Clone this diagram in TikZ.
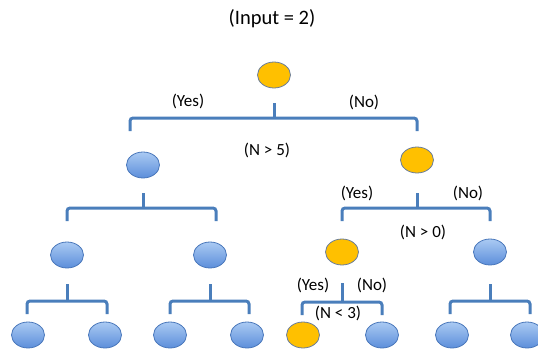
\documentclass[tikz,border=0pt]{standalone}
\usepackage{fontspec}
\setmainfont{Carlito}
\usetikzlibrary{shapes.geometric}
\definecolor{brcol}{RGB}{74,126,187}
\definecolor{bltop}{RGB}{170,202,243}
\definecolor{blbot}{RGB}{92,142,218}
\definecolor{blline}{RGB}{72,118,186}
\definecolor{orfill}{RGB}{255,192,0}
\definecolor{orline}{RGB}{105,125,155}
\tikzset{
  bnode/.style={ellipse, minimum width=33pt, minimum height=26pt, inner sep=0pt,
    top color=bltop, bottom color=blbot, draw=blline, line width=0.8pt},
  onode/.style={ellipse, minimum width=33pt, minimum height=26pt, inner sep=0pt,
    fill=orfill, draw=orline, line width=0.8pt},
  brk/.style={draw=brcol, line width=3pt, rounded corners=3pt},
  lbl/.style={font=\fontsize{17}{19}\selectfont, inner sep=0pt},
  ttl/.style={font=\fontsize{20.5}{24}\selectfont, inner sep=0pt}
}
\newcommand\brk[5]{%
  \draw[brk] (#1.center |- 0,#4) -- (#1.center |- 0,#5);
  \draw[brk] (#2,#5+13) -- (#2,#5) -- (#3,#5) -- (#3,#5+13);
}
\begin{document}
\begin{tikzpicture}[x=1pt,y=-1pt]
\useasboundingbox (0,0) rectangle (538,354);
\clip (0,0) rectangle (538,354);
\node[ttl] (title) at (272,19) {(Input = 2)};
% nodes
\node[onode] (root) at (274,75) {};
\node[bnode] (L) at (143,165) {};
\node[onode] (R) at (417,160) {};
\node[bnode] (LL) at (67,255) {};
\node[bnode] (LR) at (210,255) {};
\node[onode] (RL) at (342,252) {};
\node[bnode] (RR) at (490,252) {};
\node[bnode] (LLa) at (28,335) {};
\node[bnode] (LLb) at (105,335) {};
\node[bnode] (LRa) at (170,335) {};
\node[bnode] (LRb) at (247,335) {};
\node[onode] (RLa) at (303,335) {};
\node[bnode] (RLb) at (382,335) {};
\node[bnode] (RRa) at (452,335) {};
\node[bnode] (RRb) at (527,335) {};
% brackets
\brk{root}{130}{417}{103}{118}
\brk{L}{67}{216}{193}{208}
\brk{R}{342}{490}{193}{208}
\brk{LL}{27}{107}{284}{301}
\brk{LR}{170}{249}{284}{301}
\brk{RL}{302}{382}{283}{302}
\brk{RR}{450}{530}{284}{301}
% labels
\node[lbl] (y1) at (188,101) {(Yes)};
\node[lbl] (n1) at (364,102) {(No)};
\node[lbl] (c1) at (267,150) {(N > 5)};
\node[lbl] (y2) at (357,193) {(Yes)};
\node[lbl] (n2) at (468,193) {(No)};
\node[lbl] (c2) at (423,232) {(N > 0)};
\node[lbl] (y3) at (313,285) {(Yes)};
\node[lbl] (n3) at (372,285) {(No)};
\node[lbl] (c3) at (338,313) {(N < 3)};
\end{tikzpicture}
\end{document}
